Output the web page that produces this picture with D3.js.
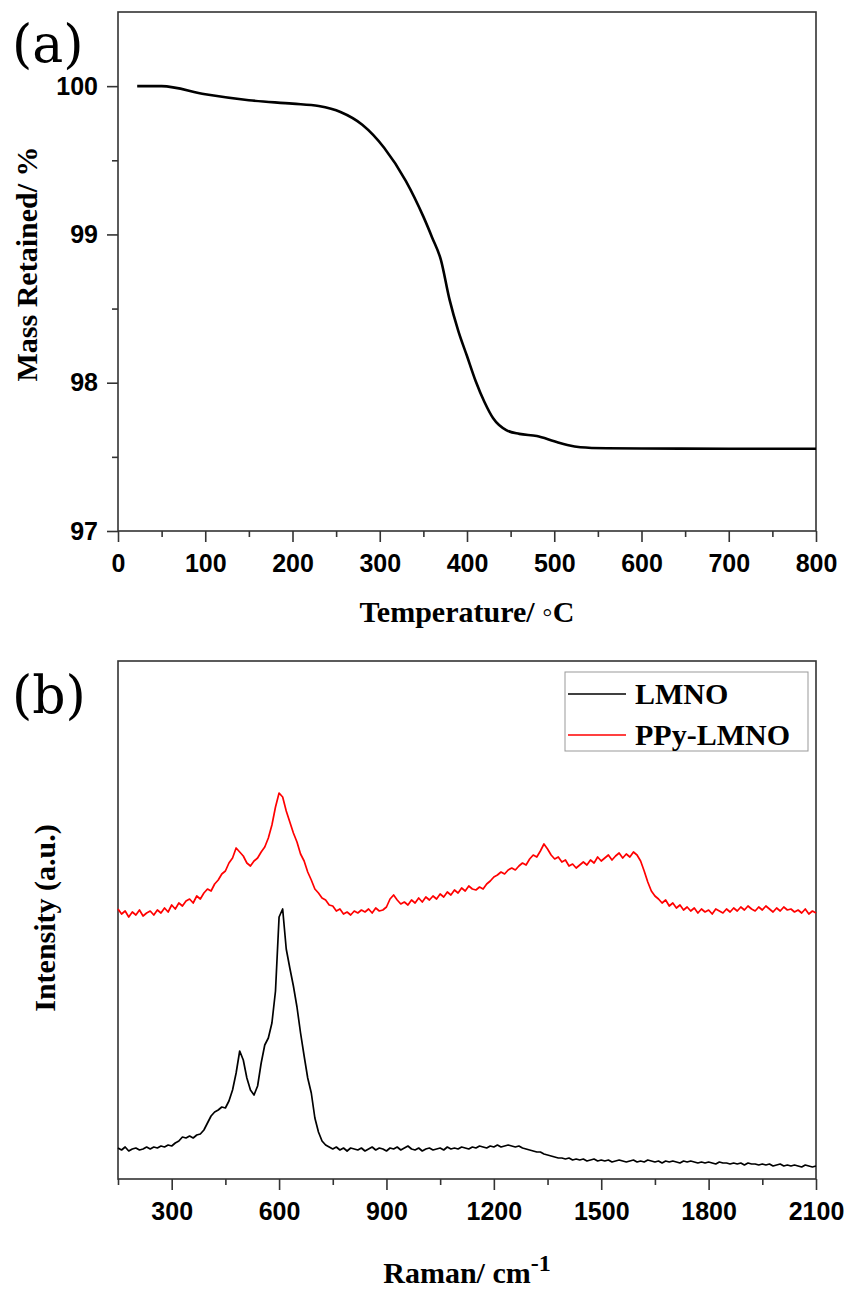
<!DOCTYPE html>
<html>
<head>
<meta charset="utf-8">
<script src="https://cdnjs.cloudflare.com/ajax/libs/d3/7.8.5/d3.min.js"></script>
<style>
	body { margin: 0; background: #fff; }
	.tick text { font-family: "Liberation Sans", Arial, sans-serif; font-weight: bold; font-size: 25px; fill: #000; }
	.tick line { stroke: #333; stroke-width: 1.6; }
	.title { font-family: "Liberation Serif", "Times New Roman", serif; font-weight: bold; font-size: 30px; fill: #000; }
	.panel { font-family: "DejaVu Serif", serif; font-size: 52px; fill: #000; }
</style>
</head>
<body>
<div id="chart"></div>
<script>

/*
 * TGA data, panel (a).
 */
var tgaTemp = [22, 50, 100, 150, 200, 230, 255, 280, 305, 330, 350, 360, 370, 380, 390, 400, 410, 420, 430, 445, 460, 480, 500, 515, 530, 560, 600, 700, 800];
var tgaMass = [100.0, 100.0, 99.945, 99.905, 99.882, 99.866, 99.826, 99.74, 99.585, 99.36, 99.12, 98.98, 98.83, 98.56, 98.35, 98.18, 98.01, 97.87, 97.76, 97.68, 97.655, 97.64, 97.605, 97.58, 97.565, 97.558, 97.556, 97.555, 97.555];

var tempTicks = [0, 100, 200, 300, 400, 500, 600, 700, 800];
var massTicks = [97, 98, 99, 100];

/*
 * Raman data, panel (b). Spectra sampled every 10 cm-1 from 150 to 2100.
 */
var ramanShift = d3.range(150, 2101, 10);

var lmno = [
	31, 29, 32, 28, 30, 31, 29, 30, 32, 30,
	32, 31, 33, 32, 34, 33, 36, 38, 42, 41,
	43, 41, 44, 45, 49, 56, 63, 67, 69, 72,
	71, 78, 89, 106, 128, 119, 101, 89, 84, 93,
	116, 134, 141, 156, 188, 262, 270, 230, 211, 193,
	172, 146, 123, 101, 86, 61, 47, 38, 34, 32,
	30, 32, 29, 31, 28, 31, 30, 29, 31, 28,
	30, 32, 29, 31, 30, 28, 31, 30, 32, 29,
	31, 33, 30, 29, 31, 28, 30, 31, 29, 30,
	31, 29, 32, 30, 31, 30, 32, 31, 30, 32,
	31, 33, 32, 31, 33, 32, 34, 32, 33, 34,
	33, 32, 33, 31, 30, 29, 28, 27, 27, 25,
	24, 23, 22, 21, 21, 20, 21, 19, 20, 19,
	20, 18, 19, 20, 18, 19, 18, 19, 17, 18,
	19, 18, 17, 18, 19, 17, 18, 17, 19, 18,
	17, 18, 16, 18, 17, 18, 17, 16, 18, 17,
	18, 17, 16, 17, 16, 17, 16, 15, 17, 16,
	16, 15, 16, 15, 16, 14, 16, 15, 15, 14,
	15, 14, 15, 13, 14, 15, 13, 14, 13, 14,
	13, 12, 14, 13, 12, 13
];

var ppyLmno = [
	270, 265, 268, 262, 267, 264, 269, 263, 266, 268,
	264, 269, 266, 271, 267, 274, 270, 276, 273, 278,
	280, 276, 283, 280, 286, 290, 288, 295, 299, 305,
	308, 316, 321, 331, 327, 323, 316, 313, 318, 321,
	327, 332, 341, 354, 372, 386, 382, 368, 357, 346,
	337, 325, 318, 307, 299, 290, 286, 281, 279, 274,
	273, 268, 270, 265, 267, 264, 268, 266, 269, 267,
	270, 266, 271, 268, 269, 272, 280, 284, 279, 275,
	277, 274, 279, 276, 281, 277, 282, 279, 283, 280,
	285, 282, 287, 284, 289, 286, 291, 288, 293, 290,
	289, 292, 290, 295, 298, 302, 304, 307, 305, 309,
	311, 309, 313, 316, 314, 320, 324, 322, 328, 335,
	330, 324, 320, 322, 317, 319, 313, 315, 311, 314,
	317, 314, 319, 316, 322, 318, 321, 324, 319, 323,
	326, 321, 325, 322, 327, 324, 318, 308, 297, 288,
	283, 280, 276, 279, 273, 276, 271, 274, 269, 272,
	268, 271, 266, 270, 267, 269, 265, 270, 268, 266,
	270, 267, 271, 268, 272, 269, 273, 270, 268, 272,
	269, 273, 270, 267, 271, 268, 272, 269, 270, 267,
	269, 266, 270, 265, 268, 266
];

var ramanTicks = [300, 600, 900, 1200, 1500, 1800, 2100];
var seriesNames = ["LMNO", "PPy-LMNO"];
var seriesColors = ["#000000", "#ff0000"];

/*
 * Bounds.
 */
var width = 853,
	height = 1292;

var svg = d3.select("#chart").append("svg")
	.attr("width", width)
	.attr("height", height);

var left = 118, right = 816;
var fmt = d3.format("d");

/*
 * Panel (a): TGA.
 */
var aTop = 12, aBottom = 531;

var xA = d3.scaleLinear().domain([0, 800]).range([left, right]);
var yA = d3.scaleLinear().domain([97, 100.5]).range([aBottom, aTop]);

var gA = svg.append("g");

gA.append("g")
	.attr("transform", "translate(0," + aBottom + ")")
	.call(d3.axisBottom(xA).tickValues(d3.range(50, 800, 100)).tickSize(6).tickFormat(""))
	.call(function(g) { g.select(".domain").remove(); });

gA.append("g")
	.attr("transform", "translate(0," + aBottom + ")")
	.call(d3.axisBottom(xA).tickValues(tempTicks).tickSize(11).tickPadding(12).tickFormat(fmt))
	.call(function(g) { g.select(".domain").remove(); });

gA.append("g")
	.attr("transform", "translate(" + left + ",0)")
	.call(d3.axisLeft(yA).tickValues([97.5, 98.5, 99.5]).tickSize(6).tickFormat(""))
	.call(function(g) { g.select(".domain").remove(); });

gA.append("g")
	.attr("transform", "translate(" + left + ",0)")
	.call(d3.axisLeft(yA).tickValues(massTicks).tickSize(11).tickPadding(9).tickFormat(fmt))
	.call(function(g) { g.select(".domain").remove(); });

gA.append("rect")
	.attr("x", left).attr("y", aTop)
	.attr("width", right - left).attr("height", aBottom - aTop)
	.attr("fill", "none").attr("stroke", "#333").attr("stroke-width", 1.6);

var tgaLine = d3.line()
	.x(function(d, i) { return xA(tgaTemp[i]); })
	.y(function(d) { return yA(d); })
	.curve(d3.curveMonotoneX);

gA.append("path")
	.attr("d", tgaLine(tgaMass))
	.attr("fill", "none")
	.attr("stroke", "#000")
	.attr("stroke-width", 2.6);

gA.append("text")
	.attr("class", "title")
	.attr("x", (left + right) / 2).attr("y", 622)
	.attr("text-anchor", "middle")
	.text("Temperature/ \u25E6C");

gA.append("text")
	.attr("class", "title")
	.attr("transform", "translate(37," + 264 + ") rotate(-90)")
	.attr("text-anchor", "middle")
	.text("Mass Retained/ %");

gA.append("text")
	.attr("class", "panel")
	.attr("x", 12).attr("y", 62)
	.text("(a)");

/*
 * Panel (b): Raman.
 */
var bTop = 661, bBottom = 1179;

var xB = d3.scaleLinear().domain([150, 2100]).range([left, right]);
var yB = d3.scaleLinear().domain([0, 518]).range([bBottom, bTop]);

var gB = svg.append("g");

gB.append("g")
	.attr("transform", "translate(0," + bBottom + ")")
	.call(d3.axisBottom(xB).tickValues(d3.range(150, 2100, 300)).tickSize(6).tickFormat(""))
	.call(function(g) { g.select(".domain").remove(); });

gB.append("g")
	.attr("transform", "translate(0," + bBottom + ")")
	.call(d3.axisBottom(xB).tickValues(ramanTicks).tickSize(11).tickPadding(12).tickFormat(fmt))
	.call(function(g) { g.select(".domain").remove(); });

gB.append("rect")
	.attr("x", left).attr("y", bTop)
	.attr("width", right - left).attr("height", bBottom - bTop)
	.attr("fill", "none").attr("stroke", "#333").attr("stroke-width", 1.6);

var ramanLine = d3.line()
	.x(function(d, i) { return xB(ramanShift[i]); })
	.y(function(d) { return yB(d); });

[lmno, ppyLmno].forEach(function(s, k) {
	gB.append("path")
		.attr("d", ramanLine(s))
		.attr("fill", "none")
		.attr("stroke", seriesColors[k])
		.attr("stroke-width", 1.7)
		.attr("stroke-linejoin", "round");
});

/*
 * Legend.
 */
var legend = gB.append("g");

legend.append("rect")
	.attr("x", 565).attr("y", 672)
	.attr("width", 243).attr("height", 79)
	.attr("fill", "#fff").attr("stroke", "#999").attr("stroke-width", 1);

seriesNames.forEach(function(name, k) {
	var ly = 694 + k * 41;
	legend.append("line")
		.attr("x1", 568).attr("x2", 626)
		.attr("y1", ly).attr("y2", ly)
		.attr("stroke", seriesColors[k]).attr("stroke-width", 1.6);
	legend.append("text")
		.attr("class", "title")
		.attr("x", 635).attr("y", ly + 10)
		.text(name);
});

var ramanTitle = gB.append("text")
	.attr("class", "title")
	.attr("x", (left + right) / 2).attr("y", 1283)
	.attr("text-anchor", "middle");
ramanTitle.append("tspan").text("Raman/ cm");
ramanTitle.append("tspan").attr("dy", -12).attr("font-size", 24).text("-1");

gB.append("text")
	.attr("class", "title")
	.attr("transform", "translate(55," + 918 + ") rotate(-90)")
	.attr("text-anchor", "middle")
	.text("Intensity (a.u.)");

gB.append("text")
	.attr("class", "panel")
	.attr("x", 12).attr("y", 713)
	.text("(b)");

</script>
</body>
</html>
